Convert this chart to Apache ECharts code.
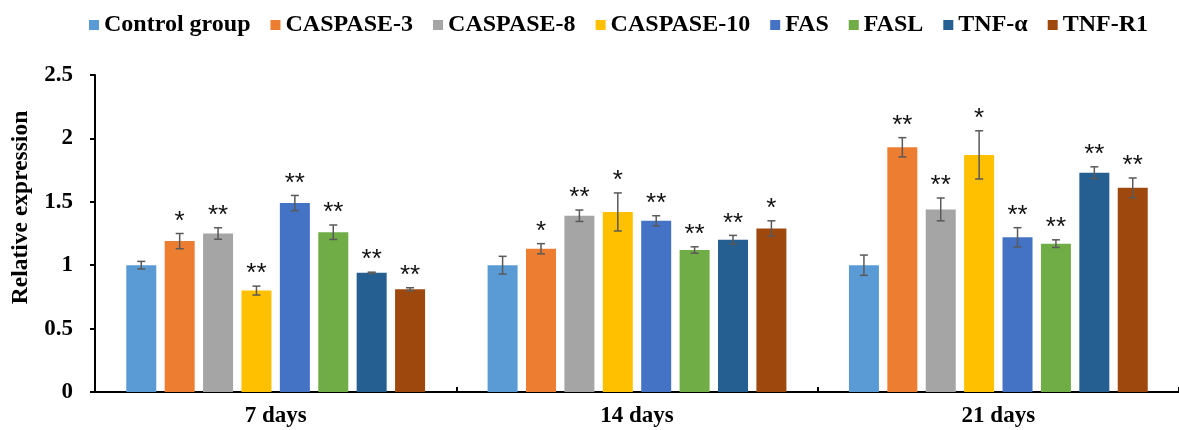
<!DOCTYPE html>
<html>
<head>
<meta charset="utf-8">
<script src="https://cdn.jsdelivr.net/npm/echarts@6/dist/echarts.min.js"></script>
<style>
  html, body { margin: 0; padding: 0; background: #fff; }
  #main { width: 1179px; height: 430px; }
</style>
</head>
<body>
<div id="main"></div>
<script>
    // 数据
    const days = ['7 days', '14 days', '21 days']
    const genes = ['Control group', 'CASPASE-3', 'CASPASE-8', 'CASPASE-10', 'FAS', 'FASL', 'TNF-α', 'TNF-R1']
    const colors = ['#5B9BD5', '#ED7D31', '#A5A5A5', '#FFC000', '#4472C4', '#70AD47', '#255E91', '#9E480E']

    const controlVals = [1.00, 1.00, 1.00]
    const casp3Vals = [1.19, 1.13, 1.93]
    const casp8Vals = [1.25, 1.39, 1.44]
    const casp10Vals = [0.80, 1.42, 1.87]
    const fasVals = [1.49, 1.35, 1.22]
    const faslVals = [1.26, 1.12, 1.17]
    const tnfaVals = [0.94, 1.20, 1.73]
    const tnfr1Vals = [0.81, 1.29, 1.61]

    const controlErr = [0.03, 0.07, 0.08]
    const casp3Err = [0.06, 0.04, 0.076]
    const casp8Err = [0.045, 0.045, 0.09]
    const casp10Err = [0.035, 0.15, 0.19]
    const fasErr = [0.06, 0.04, 0.076]
    const faslErr = [0.057, 0.025, 0.03]
    const tnfaErr = [0.005, 0.035, 0.046]
    const tnfr1Err = [0.012, 0.06, 0.078]

    const controlStar = ['', '', '']
    const casp3Star = ['*', '*', '**']
    const casp8Star = ['**', '**', '**']
    const casp10Star = ['**', '*', '*']
    const fasStar = ['**', '**', '**']
    const faslStar = ['**', '**', '**']
    const tnfaStar = ['**', '**', '**']
    const tnfr1Star = ['**', '*', '**']

    const yTicks = [0, 0.5, 1, 1.5, 2, 2.5]

    const allVals = [controlVals, casp3Vals, casp8Vals, casp10Vals, fasVals, faslVals, tnfaVals, tnfr1Vals]
    const allErr = [controlErr, casp3Err, casp8Err, casp10Err, fasErr, faslErr, tnfaErr, tnfr1Err]
    const allStar = [controlStar, casp3Star, casp8Star, casp10Star, fasStar, faslStar, tnfaStar, tnfr1Star]

    const serif = '"Liberation Serif", "Times New Roman", serif'
    const barW = 30
    const step = 38.4   // bar width + gap

    const series = []
    genes.forEach((g, i) => {
        series.push({
            name: g,
            type: 'bar',
            data: allVals[i],
            barWidth: barW,
            barGap: '28%',
            itemStyle: { color: colors[i] }
        })
    })
    // 误差线 + 星号
    genes.forEach((g, i) => {
        const off = (i - 3.5) * step
        series.push({
            type: 'custom',
            name: g,
            z: 5,
            silent: true,
            data: allVals[i].map((v, k) => [k, v, allErr[i][k]]),
            renderItem: function (params, api) {
                const k = api.value(0)
                const v = api.value(1)
                const e = api.value(2)
                const star = allStar[i][k]
                const top = api.coord([k, v + e])
                const bot = api.coord([k, v - e])
                const x = top[0] + off
                const cap = 4
                const st = { stroke: '#595959', lineWidth: 1.5 }
                const children = [
                    { type: 'line', shape: { x1: x, y1: top[1], x2: x, y2: bot[1] }, style: st },
                    { type: 'line', shape: { x1: x - cap, y1: top[1], x2: x + cap, y2: top[1] }, style: st },
                    { type: 'line', shape: { x1: x - cap, y1: bot[1], x2: x + cap, y2: bot[1] }, style: st }
                ]
                if (star) {
                    children.push({
                        type: 'text',
                        style: {
                            text: star,
                            x: x,
                            y: top[1] + 1,
                            align: 'center',
                            verticalAlign: 'bottom',
                            font: '26px "Liberation Sans", Arial, sans-serif',
                            fill: '#111'
                        }
                    })
                }
                return { type: 'group', children: children }
            }
        })
    })

    const myCharts = echarts.init(document.getElementById('main'))
    const option = {
        animation: false,
        color: colors,
        legend: {
            data: genes,
            top: 8,
            left: 84,
            icon: 'rect',
            itemWidth: 10,
            itemHeight: 10,
            itemGap: 20,
            textStyle: { fontFamily: serif, fontWeight: 'bold', fontSize: 24, color: '#000' }
        },
        grid: { left: 95, top: 75, bottom: 38, right: -11 },
        xAxis: {
            type: 'category',
            data: days,
            axisLine: { lineStyle: { color: '#000', width: 2 } },
            axisTick: { show: true, inside: true, length: 5, lineStyle: { color: '#000', width: 2 } },
            axisLabel: { fontFamily: serif, fontWeight: 'bold', fontSize: 23, color: '#000', margin: 13 }
        },
        yAxis: {
            type: 'value',
            min: 0,
            max: 2.5,
            interval: 0.5,
            name: 'Relative expression',
            nameLocation: 'middle',
            nameGap: 62,
            nameTextStyle: {
                fontFamily: serif, fontWeight: 'bold', fontSize: 23.5, color: '#000',
                padding: [0, 0, 0, 52]
            },
            axisLine: { show: true, lineStyle: { color: '#000', width: 2 } },
            axisTick: { show: true, length: 5, lineStyle: { color: '#000', width: 2 } },
            axisLabel: {
                fontFamily: serif, fontWeight: 'bold', fontSize: 23, color: '#000', margin: 22,
                formatter: v => String(yTicks.find(t => Math.abs(t - v) < 1e-9) ?? v)
            },
            splitLine: { show: false }
        },
        series: series
    }
    myCharts.setOption(option)
    window.addEventListener('resize', () => {
        myCharts.resize()
    })
</script>
</body>
</html>
